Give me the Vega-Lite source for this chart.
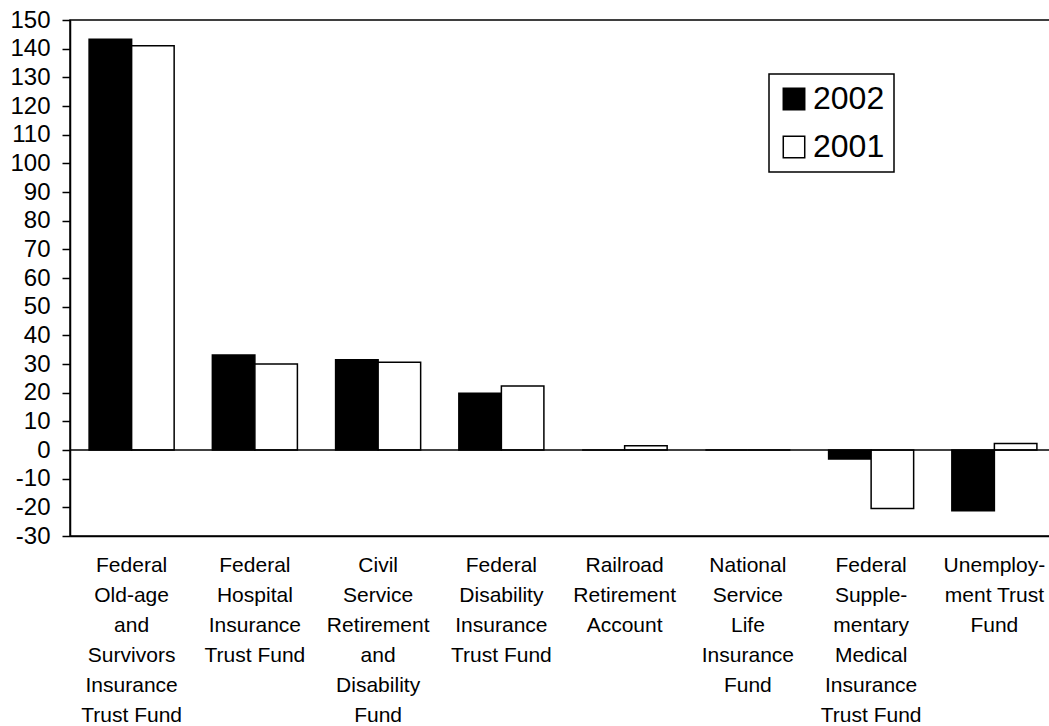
{
  "$schema": "https://vega.github.io/schema/vega-lite/v6.json",
  "autosize": "none",
  "padding": {"left": 70, "top": 20, "right": 0, "bottom": 190},
  "width": 986,
  "height": 516,
  "background": "white",
  "config": {
    "font": "Liberation Sans",
    "view": {"stroke": "black", "strokeWidth": 1.5},
    "axis": {"labelColor": "black", "domainColor": "black", "tickColor": "black", "grid": false, "labelFont": "Liberation Sans"}
  },
  "data": {
    "values": [
      {"fund": "Federal|Old-age|and|Survivors|Insurance|Trust Fund", "year": "2002", "value": 143.3},
      {"fund": "Federal|Old-age|and|Survivors|Insurance|Trust Fund", "year": "2001", "value": 141.0},
      {"fund": "Federal|Hospital|Insurance|Trust Fund", "year": "2002", "value": 33.1},
      {"fund": "Federal|Hospital|Insurance|Trust Fund", "year": "2001", "value": 30.0},
      {"fund": "Civil|Service|Retirement|and|Disability|Fund", "year": "2002", "value": 31.5},
      {"fund": "Civil|Service|Retirement|and|Disability|Fund", "year": "2001", "value": 30.6},
      {"fund": "Federal|Disability|Insurance|Trust Fund", "year": "2002", "value": 19.8},
      {"fund": "Federal|Disability|Insurance|Trust Fund", "year": "2001", "value": 22.3},
      {"fund": "Railroad|Retirement|Account", "year": "2002", "value": 0.0},
      {"fund": "Railroad|Retirement|Account", "year": "2001", "value": 1.5},
      {"fund": "National|Service|Life|Insurance|Fund", "year": "2002", "value": 0.0},
      {"fund": "National|Service|Life|Insurance|Fund", "year": "2001", "value": 0.0},
      {"fund": "Federal|Supple-|mentary|Medical|Insurance|Trust Fund", "year": "2002", "value": -3.1},
      {"fund": "Federal|Supple-|mentary|Medical|Insurance|Trust Fund", "year": "2001", "value": -20.4},
      {"fund": "Unemploy-|ment Trust|Fund", "year": "2002", "value": -21.2},
      {"fund": "Unemploy-|ment Trust|Fund", "year": "2001", "value": 2.3}
    ]
  },
  "layer": [
    {
      "mark": {"type": "bar", "stroke": "black", "strokeWidth": 1.5},
      "encoding": {
        "x": {
          "field": "fund", "type": "nominal", "sort": null, "title": null,
          "scale": {"paddingInner": 0.31, "paddingOuter": 0.155},
          "axis": {
            "labelAngle": 0, "labelFontSize": 21, "labelLineHeight": 30,
            "labelExpr": "split(datum.label, '|')", "ticks": false,
            "labelPadding": 18, "labelBaseline": "top", "domainWidth": 1.5,
            "labelLimit": 200, "labelOverlap": false
          }
        },
        "xOffset": {"field": "year", "type": "nominal", "sort": ["2002", "2001"], "scale": {"paddingInner": 0, "paddingOuter": 0}},
        "y": {
          "field": "value", "type": "quantitative", "title": null,
          "scale": {"domain": [-30, 150], "nice": false, "zero": false},
          "axis": {"values": [-30,-20,-10,0,10,20,30,40,50,60,70,80,90,100,110,120,130,140,150], "tickCount": 30, "labelExpr": "datum.value + ''", "labelOverlap": false, "labelFontSize": 24, "tickSize": 8, "tickWidth": 1.5, "labelPadding": 12, "domainWidth": 1.5}
        },
        "fill": {
          "field": "year", "type": "nominal",
          "scale": {"domain": ["2002", "2001"], "range": ["black", "white"]},
          "legend": {
            "title": null, "orient": "none", "legendX": 699, "legendY": 54,
            "symbolType": "square", "symbolSize": 460, "symbolStrokeColor": "black", "symbolStrokeWidth": 1.5,
            "labelFontSize": 32, "labelColor": "black", "labelOffset": 3,
            "rowPadding": 16, "padding": 9, "strokeColor": "black", "fillColor": "white",
            "encode": {"legend": {"update": {"strokeWidth": {"value": 1.5}}}}
          }
        }
      }
    },
    {
      "data": {"values": [{"zero": 0}]},
      "mark": {"type": "rule", "color": "black", "strokeWidth": 1.5},
      "encoding": {"y": {"field": "zero", "type": "quantitative"}}
    }
  ]
}
